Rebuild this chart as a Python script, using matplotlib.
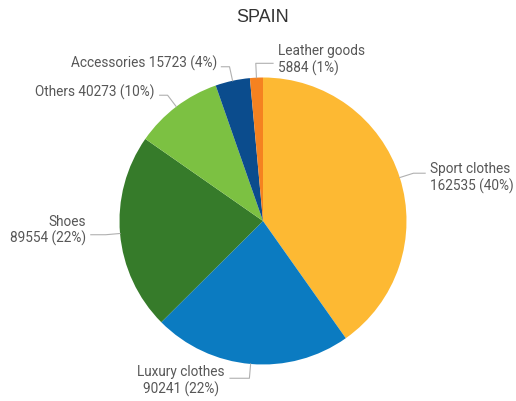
import numpy as np
import matplotlib
matplotlib.use("Agg")
import matplotlib.pyplot as plt

# data (clockwise from 12 o'clock)
categories = ["Sport clothes", "Luxury clothes", "Shoes", "Others", "Accessories", "Leather goods"]
values = [162535, 90241, 89554, 40273, 15723, 5884]
percents = [40, 22, 22, 10, 4, 1]
colors = ["#FDB933", "#0B7BC1", "#367B2A", "#7CC142", "#0B4C8D", "#F58220"]

# label layout: text anchor (data units, radius 1 pie), alignment, two-line?
label_pos = [(1.164, 0.307, "left", True),
             (-0.57, -1.108, "center", True),
             (-1.233, -0.06, "right", True),
             (-0.753, 0.906, "right", False),
             (-0.321, 1.108, "right", False),
             (0.105, 1.129, "left", True)]
line_end = [1.13, -0.23, -1.20, -0.72, -0.29, 0.07]

fig = plt.figure(figsize=(5.16, 4.02), dpi=100)
ax = fig.add_axes([0, 0, 1, 1])

wedges, _ = ax.pie(values, colors=colors, startangle=90, counterclock=False,
                   radius=1.0, center=(0, 0), wedgeprops=dict(linewidth=0),
                   frame=True)
ax.set_xlim(-263 / 143.5, (516 - 263) / 143.5)
ax.set_ylim(-(402 - 222) / 143.5, 222 / 143.5)
ax.set_aspect("equal")
ax.axis("off")

total = sum(values)
start = 0.0
for i, (cat, val, pct) in enumerate(zip(categories, values, percents)):
    frac = val / total
    mid = np.deg2rad((start + frac / 2) * 360)
    start += frac
    x0, y0 = np.sin(mid) * 1.0, np.cos(mid) * 1.0
    x1, y1 = np.sin(mid) * 1.1, np.cos(mid) * 1.1
    ax.plot([x0, x1, line_end[i]], [y0, y1, y1], color="#b0b0b0", lw=0.8)
    tx, ty, ha, two = label_pos[i]
    txt = f"{cat}\n{val} ({pct}%)" if two else f"{cat} {val} ({pct}%)"
    ax.text(tx, ty, txt, ha=ha, va="center", multialignment=ha,
            fontsize=9.8, color="#575757", family="Roboto", linespacing=1.15)

fig.text(263 / 516, 1 - 17 / 402, "SPAIN", ha="center", va="center",
         fontsize=13, color="#333333", family="Liberation Sans")

fig.savefig("out.png", dpi=100)
